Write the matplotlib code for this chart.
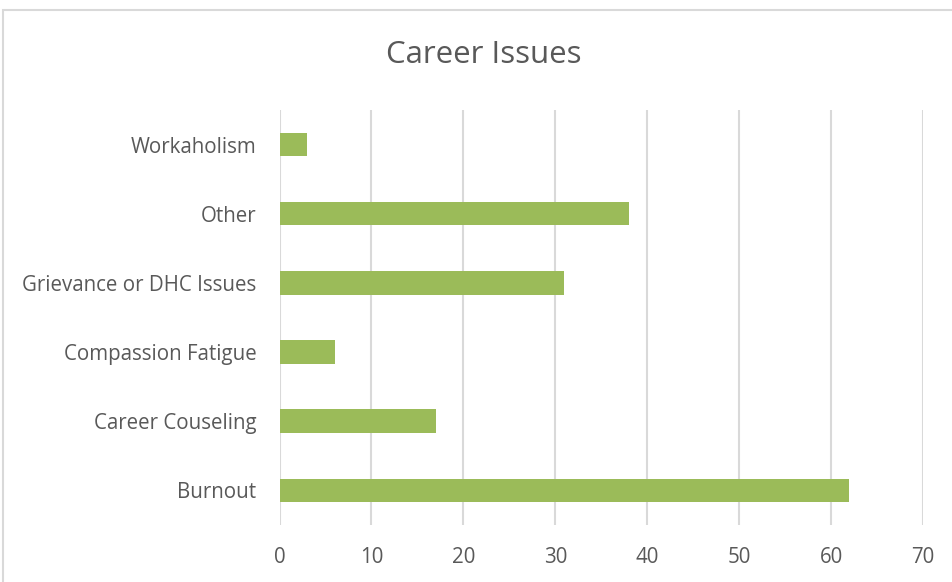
import numpy as np
import matplotlib.pyplot as plt
from matplotlib.patches import Rectangle

plt.rcParams['font.family'] = ['Open Sans', 'DejaVu Sans']

categories = ['Burnout', 'Career Couseling', 'Compassion Fatigue',
              'Grievance or DHC Issues', 'Other', 'Workaholism']
counts = [62, 17, 6, 31, 38, 3]
xticks = [0, 10, 20, 30, 40, 50, 60, 70]

fig = plt.figure(figsize=(9.52, 5.82), dpi=100)
ax = fig.add_axes([0.2936, 0.098, 0.6759, 0.713])

# chart frame (runs off right and bottom edges)
fig.patches.append(Rectangle((3 / 952, -0.05), 1.1, 1 - 10 / 582 + 0.05,
                             transform=fig.transFigure, fill=False,
                             edgecolor='#D9D9D9', linewidth=1.5))

y = np.arange(len(categories))
ax.barh(y, counts, height=0.34, color='#9BBB59', zorder=3)

ax.set_xlim(0, 70)
ax.set_ylim(-0.5, len(categories) - 0.5)
ax.set_xticks(xticks)
ax.set_yticks(y)
ax.set_yticklabels(categories)
ax.grid(axis='x', color='#D9D9D9', linewidth=1.5, zorder=0)
ax.grid(axis='y', visible=False)
for s in ax.spines.values():
    s.set_visible(False)
ax.tick_params(axis='both', length=0, labelsize=14.8, labelcolor='#595959')
ax.tick_params(axis='y', pad=16.5)
ax.tick_params(axis='x', pad=16)

fig.text(484 / 952, 1 - 55 / 582, 'Career Issues', ha='center', va='center',
         fontsize=22.5, color='#595959')

fig.savefig('out.png', dpi=100)
